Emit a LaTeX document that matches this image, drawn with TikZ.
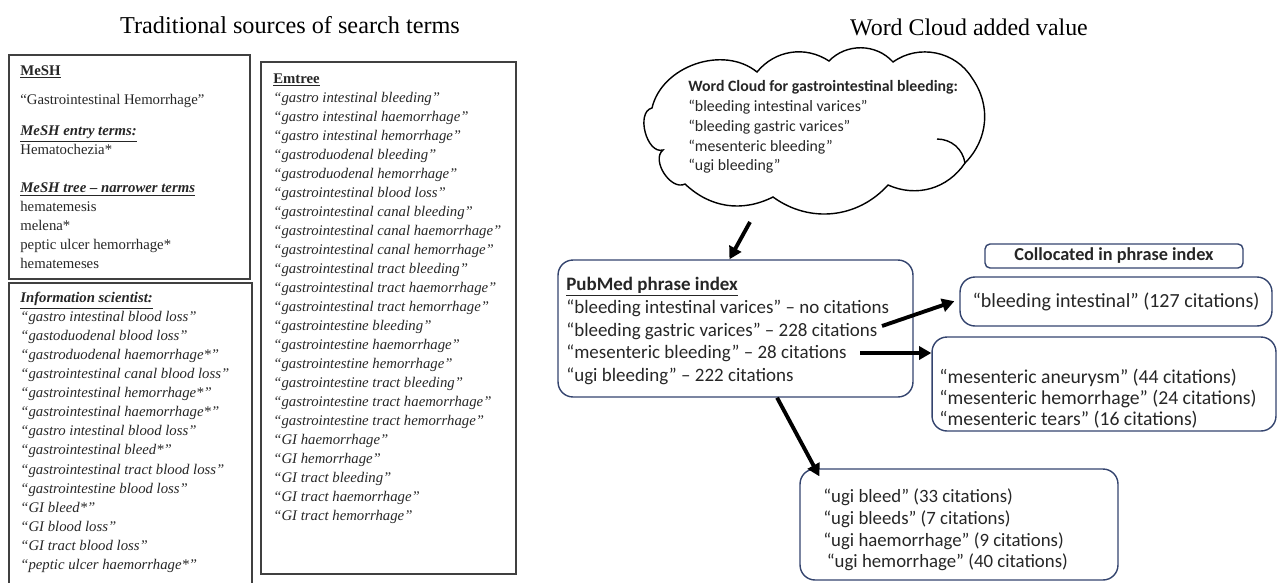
\documentclass[tikz,border=0pt]{standalone}
\usepackage{fontspec}
\setmainfont{Liberation Serif}
\newfontfamily\carlito{Carlito}
\usetikzlibrary{calc,positioning,arrows.meta}
\definecolor{boxblue}{RGB}{52,68,110}
\newcommand{\qi}[1]{\textit{“#1”}}

\begin{document}
\begin{tikzpicture}[x=0.02cm, y=-0.02cm,
    lbox/.style={draw=black!75, line width=1.1pt},
    ltext/.style={anchor=north west, inner sep=0pt, align=left, text=black!85,
      font=\fontsize{8.4}{10.83}\selectfont},
    rbox/.style={draw=boxblue, line width=0.8pt, rounded corners=0.3cm, inner sep=0pt},
    rtext/.style={anchor=west, inner sep=0pt, align=left, text=black!85},
    arr/.style={line width=2.2pt, -{Triangle[length=7pt,width=7.5pt]}}]
  \useasboundingbox (0,0) rectangle (1277,582);

  % titles
  \node (tl) at (290,25) {\fontsize{13.8}{16}\selectfont Traditional sources of search terms};
  \node (tr) at (969,27) {\fontsize{13.6}{16}\selectfont Word Cloud added value};

  % left panel
  \draw[lbox] (9,55) rectangle (250,279);
  \draw[lbox] (9,584) -- (9,283) -- (252,283) -- (252,584);
  \draw[lbox] (261,62) rectangle (516,574);

  \node[ltext] (mesh) at (20,65) {\underline{\textbf{MeSH}}\\[6.1pt]
    “Gastrointestinal Hemorrhage”\\[6.7pt]
    \underline{\textbf{\textit{MeSH entry terms:}}}\\
    Hematochezia*\\[10.6pt]
    \underline{\textbf{\textit{MeSH tree – narrower terms}}}\\
    hematemesis\\ melena*\\ peptic ulcer hemorrhage*\\ hematemeses};

  \node[ltext] (info) at (20,292) {\underline{\textbf{\textit{Information scientist:}}}\\
    \qi{gastro intestinal blood loss}\\
    \qi{gastoduodenal blood loss}\\
    \qi{gastroduodenal haemorrhage*}\\
    \qi{gastrointestinal canal blood loss}\\
    \qi{gastrointestinal hemorrhage*}\\
    \qi{gastrointestinal haemorrhage*}\\
    \qi{gastro intestinal blood loss}\\
    \qi{gastrointestinal bleed*}\\
    \qi{gastrointestinal tract blood loss}\\
    \qi{gastrointestine blood loss}\\
    \qi{GI bleed*}\\
    \qi{GI blood loss}\\
    \qi{GI tract blood loss}\\
    \qi{peptic ulcer haemorrhage*}};

  \node[ltext] (emtree) at (273,73) {\underline{\textbf{Emtree}}\\
    \qi{gastro intestinal bleeding}\\
    \qi{gastro intestinal haemorrhage}\\
    \qi{gastro intestinal hemorrhage}\\
    \qi{gastroduodenal bleeding}\\
    \qi{gastroduodenal hemorrhage}\\
    \qi{gastrointestinal blood loss}\\
    \qi{gastrointestinal canal bleeding}\\
    \qi{gastrointestinal canal haemorrhage}\\
    \qi{gastrointestinal canal hemorrhage}\\
    \qi{gastrointestinal tract bleeding}\\
    \qi{gastrointestinal tract haemorrhage}\\
    \qi{gastrointestinal tract hemorrhage}\\
    \qi{gastrointestine bleeding}\\
    \qi{gastrointestine haemorrhage}\\
    \qi{gastrointestine hemorrhage}\\
    \qi{gastrointestine tract bleeding}\\
    \qi{gastrointestine tract haemorrhage}\\
    \qi{gastrointestine tract hemorrhage}\\
    \qi{GI haemorrhage}\\
    \qi{GI hemorrhage}\\
    \qi{GI tract bleeding}\\
    \qi{GI tract haemorrhage}\\
    \qi{GI tract hemorrhage}};

  % right panel: the cloud, puff by puff
  \draw[line width=0.8pt] (652,108) to[bend left=58] (757,72) to[bend left=42] (829,61)
    to[bend left=47] (893,62) to[bend left=47] (972,78) to[bend left=40] (965,163)
    to[bend left=40] (888,185) to[bend left=42] (773,197) to[bend left=35] (685,184)
    to[bend left=84] (663,150) to[bend left=91] (652,108) -- cycle;
  \draw[line width=0.8pt] (937,139) to[bend left=40] (965,163);
  \node[rtext, font=\carlito\fontsize{9}{11.3}\selectfont] (wct) at (688,127)
    {\textbf{Word Cloud for gastrointestinal bleeding:}\\
     “bleeding intestinal varices”\\
     “bleeding gastric varices”\\
     “mesenteric bleeding”\\
     “ugi bleeding”};

  \node[rbox, minimum width=7.1cm, minimum height=2.74cm] (pm) at (735.5,328.5) {};
  \node[rtext, font=\carlito\fontsize{10.8}{13}\selectfont] (pmt) at (566,331)
    {\underline{\textbf{PubMed phrase index}}\\
     “bleeding intestinal varices” – no citations\\
     “bleeding gastric varices” – 228 citations\\
     “mesenteric bleeding” – 28 citations\\
     “ugi bleeding” – 222 citations};

  \node[rbox, rounded corners=0.1cm, minimum width=5.16cm, minimum height=0.48cm,
    text=black!85, font=\carlito\bfseries\fontsize{10.4}{12}\selectfont] (col) at (1114,256)
    {Collocated in phrase index};
  \node[rbox, minimum width=6.24cm, minimum height=0.98cm, text=black!85,
    font=\carlito\fontsize{11.4}{13}\selectfont] (bi) at (1116,301.5)
    {“bleeding intestinal” (127 citations)};

  \node[rbox, minimum width=6.88cm, minimum height=1.88cm] (mb) at (1104,384) {};
  \node[rtext, font=\carlito\fontsize{11.2}{11.9}\selectfont] (mbt) at (939,399)
    {“mesenteric aneurysm” (44 citations)\\
     “mesenteric hemorrhage” (24 citations)\\
     “mesenteric tears” (16 citations)};

  \node[rbox, minimum width=6.36cm, minimum height=2.22cm] (ub) at (959,524.5) {};
  \node[rtext, font=\carlito\fontsize{10.7}{12.4}\selectfont] (ubt) at (823,530)
    {“ugi bleed” (33 citations)\\
     “ugi bleeds” (7 citations)\\
     “ugi haemorrhage” (9 citations)\\
     \hspace{2pt}“ugi hemorrhage” (40 citations)};

  % arrows
  \coordinate (wco) at (750,222);
  \coordinate (bgv) at (882,326);
  \coordinate (msb) at (860,353);
  \draw[arr] (wco) -- (pm.95);
  \draw[arr, shorten >=3pt] (bgv) -- ($(bi.west)+(0,-2)$);
  \draw[arr] (msb) -- (msb -| mb.west);
  \draw[arr] (pm.-59) -- ($(ub.north west)+(20,8)$);
\end{tikzpicture}
\end{document}
